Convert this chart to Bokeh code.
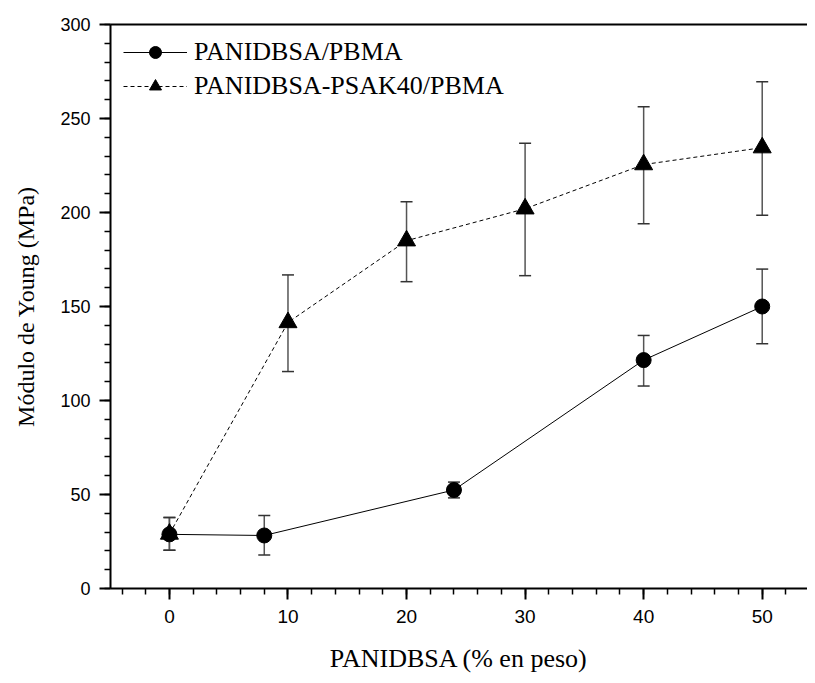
from bokeh.plotting import figure
from bokeh.models import (ColumnDataSource, Whisker, TeeHead, FixedTicker, Range1d,
                          LinearAxis, Legend, LegendItem)
from bokeh.embed import file_html
from bokeh.resources import INLINE

# Data
x_pbma = [0, 8, 24, 40, 50]
y_pbma = [28.8, 28.2, 52.4, 121.5, 150.0]
lo_pbma = [20.4, 17.8, 48.2, 107.7, 130.2]
hi_pbma = [37.8, 38.8, 56.6, 134.6, 169.9]

x_psak = [0, 10, 20, 30, 40, 50]
y_psak = [29.0, 141.5, 185.0, 202.0, 225.5, 234.5]
lo_psak = [20.4, 115.4, 163.2, 166.4, 194.0, 198.6]
hi_psak = [37.8, 166.8, 205.7, 236.9, 256.3, 269.5]

x_ticks = [0, 10, 20, 30, 40, 50]
y_ticks = [0, 50, 100, 150, 200, 250, 300]

label_pbma = "PANIDBSA/PBMA"
label_psak = "PANIDBSA-PSAK40/PBMA"
x_title = "PANIDBSA (% en peso)"
y_title = "Módulo de Young (MPa)"

src1 = ColumnDataSource(dict(x=x_pbma, y=y_pbma, lo=lo_pbma, hi=hi_pbma))
src2 = ColumnDataSource(dict(x=x_psak, y=y_psak, lo=lo_psak, hi=hi_psak))

p = figure(width=807, height=675, output_backend="svg", toolbar_location=None,
           x_range=Range1d(-4.97, 53.82), y_range=Range1d(0, 300),
           min_border_left=110, min_border_right=0, min_border_top=24, min_border_bottom=79)
p.outline_line_color = None
p.grid.visible = False
p.background_fill_color = "white"

serif = "Liberation Serif"
sans = "Liberation Sans"

# axes
for ax in (p.xaxis[0], p.yaxis[0]):
    ax.axis_line_width = 2
    ax.axis_line_color = "black"
    ax.major_tick_line_color = "black"
    ax.minor_tick_line_color = "black"
    ax.major_tick_line_width = 2
    ax.minor_tick_line_width = 1.5
    ax.major_tick_in = 0
    ax.minor_tick_in = 0
    ax.major_tick_out = 11
    ax.minor_tick_out = 6
    ax.axis_label_text_font = serif
    ax.axis_label_text_font_style = "normal"
    ax.axis_label_text_color = "black"
    ax.major_label_text_font = sans
    ax.major_label_text_color = "black"

p.xaxis.ticker = FixedTicker(ticks=x_ticks, minor_ticks=list(range(-4, 54, 2)))
p.yaxis.ticker = FixedTicker(ticks=y_ticks, minor_ticks=list(range(0, 301, 10)))
p.xaxis.axis_label = x_title
p.yaxis.axis_label = y_title
p.xaxis.axis_label_text_font_size = "26px"
p.yaxis.axis_label_text_font_size = "24px"
p.xaxis.major_label_text_font_size = "19px"
p.yaxis.major_label_text_font_size = "18px"
p.xaxis.major_label_standoff = 10
p.yaxis.major_label_standoff = 9
p.xaxis.axis_label_standoff = 18
p.yaxis.axis_label_standoff = 18

top = LinearAxis(ticker=FixedTicker(ticks=[], minor_ticks=[]), major_label_text_font_size="0px",
                 axis_line_width=2, axis_line_color="black")
p.add_layout(top, "above")

# lines
l1 = p.line("x", "y", source=src1, line_color="black", line_width=1)
l2 = p.line("x", "y", source=src2, line_color="black", line_width=1, line_dash="4 3")

# error bars
for s in (src1, src2):
    w = Whisker(source=s, base="x", lower="lo", upper="hi", line_color="#555555", line_width=1.5,
                upper_head=TeeHead(size=12, line_color="#333333", line_width=1.5),
                lower_head=TeeHead(size=12, line_color="#333333", line_width=1.5))
    p.add_layout(w)

m1 = p.scatter("x", "y", source=src1, marker="circle", size=15, fill_color="black", line_color="black")
m2 = p.scatter("x", "y", source=src2, marker="triangle", size=18, fill_color="black", line_color="black")

legend = Legend(items=[LegendItem(label=label_pbma, renderers=[l1, m1]),
                       LegendItem(label=label_psak, renderers=[l2, m2])],
                location="top_left", margin=13, padding=0, spacing=4,
                glyph_width=64, glyph_height=30, label_height=30, label_standoff=7,
                label_text_font=serif, label_text_font_size="26px", label_text_color="black",
                border_line_color=None, background_fill_alpha=0)
p.add_layout(legend)

open("out.html", "w").write(file_html(p, INLINE))
